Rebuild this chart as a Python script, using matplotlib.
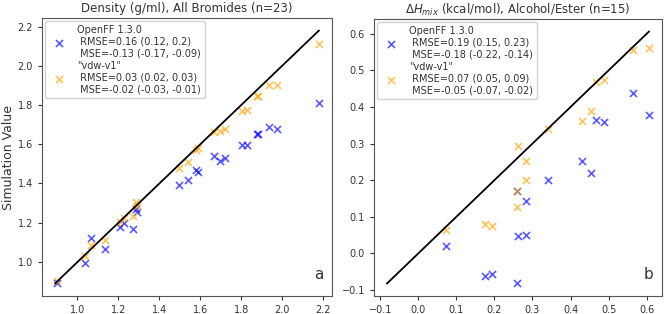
import numpy as np
import matplotlib
matplotlib.use("Agg")
import matplotlib.pyplot as plt

# panel a: density, all bromides
dens_ref = [0.898, 1.036, 1.064, 1.133, 1.207, 1.228, 1.269, 1.284, 1.289, 1.498, 1.538, 1.581,
            1.587, 1.667, 1.695, 1.723, 1.803, 1.826, 1.877, 1.880, 1.937, 1.974, 2.179]
dens_openff = [0.891, 0.995, 1.124, 1.066, 1.176, 1.200, 1.166, 1.270, 1.253, 1.392, 1.417, 1.469,
               1.460, 1.540, 1.515, 1.532, 1.596, 1.596, 1.653, 1.652, 1.690, 1.680, 1.812]
dens_vdw = [0.904, 1.029, 1.085, 1.113, 1.203, 1.223, 1.233, 1.304, 1.287, 1.478, 1.510, 1.571,
            1.580, 1.662, 1.670, 1.680, 1.768, 1.777, 1.848, 1.845, 1.903, 1.903, 2.111]

# panel b: enthalpy of mixing, alcohol/ester
hmix_ref = [0.074, 0.174, 0.194, 0.259, 0.260, 0.263, 0.282, 0.282, 0.340, 0.430, 0.454,
            0.467, 0.489, 0.565, 0.606]
hmix_openff = [0.020, -0.062, -0.057, 0.170, -0.082, 0.047, 0.143, 0.049, 0.201, 0.253, 0.219,
               0.364, 0.359, 0.437, 0.378]
hmix_vdw = [0.065, 0.079, 0.074, 0.170, 0.128, 0.294, 0.253, 0.200, 0.339, 0.362, 0.390,
            0.467, 0.473, 0.555, 0.561]

titles = ["Density (g/ml), All Bromides (n=23)",
          r"$\Delta H_{mix}$ (kcal/mol), Alcohol/Ester (n=15)"]
labels_openff = ["OpenFF 1.3.0\n RMSE=0.16 (0.12, 0.2)\n MSE=-0.13 (-0.17, -0.09)",
                 "OpenFF 1.3.0\n RMSE=0.19 (0.15, 0.23)\n MSE=-0.18 (-0.22, -0.14)"]
labels_vdw = ['"vdw-v1"\n RMSE=0.03 (0.02, 0.03)\n MSE=-0.02 (-0.03, -0.01)',
              '"vdw-v1"\n RMSE=0.07 (0.05, 0.09)\n MSE=-0.05 (-0.07, -0.02)']
panel_tags = ["a", "b"]

fig = plt.figure(figsize=(6.66, 3.14), dpi=100)
ax1 = fig.add_axes([42 / 666, 1 - 296 / 314, 290 / 666, 278 / 314])
ax2 = fig.add_axes([374 / 666, 1 - 296 / 314, 288 / 666, 277 / 314])

datasets = [(dens_ref, dens_openff, dens_vdw), (hmix_ref, hmix_openff, hmix_vdw)]
for i, (ax, (ref, ff, vdw)) in enumerate(zip([ax1, ax2], datasets)):
    ax.scatter(ref, ff, marker="x", color="blue", alpha=0.65, s=26, linewidths=1.2,
               label=labels_openff[i])
    ax.scatter(ref, vdw, marker="x", color="orange", alpha=0.65, s=26, linewidths=1.2,
               label=labels_vdw[i])
    lo = min(min(ref), min(ff), min(vdw))
    hi = max(max(ref), max(ff), max(vdw))
    ax.plot([lo, hi], [lo, hi], color="black", lw=1.3)
    pad = 0.05 * (hi - lo)
    ax.set_xlim(lo - pad, hi + pad)
    ax.set_ylim(lo - pad, hi + pad)
    ax.set_title(titles[i], fontsize=8.5, pad=4, color="#333333")
    ax.tick_params(labelsize=7, colors="#333333", length=3)
    for sp in ax.spines.values():
        sp.set_color("#555555")
    leg = ax.legend(loc="upper left", fontsize=7, handletextpad=0.9, borderpad=0.4,
                    labelspacing=0.3, framealpha=0.9, borderaxespad=0.3)
    for t in leg.get_texts():
        t.set_color("#333333")
    ax.text(0.97, 0.05, panel_tags[i], transform=ax.transAxes, ha="right", va="bottom",
            fontsize=11, color="#333333")

ax1.set_ylabel("Simulation Value", fontsize=9, color="#333333", labelpad=2)

fig.savefig("out.png", dpi=100)
